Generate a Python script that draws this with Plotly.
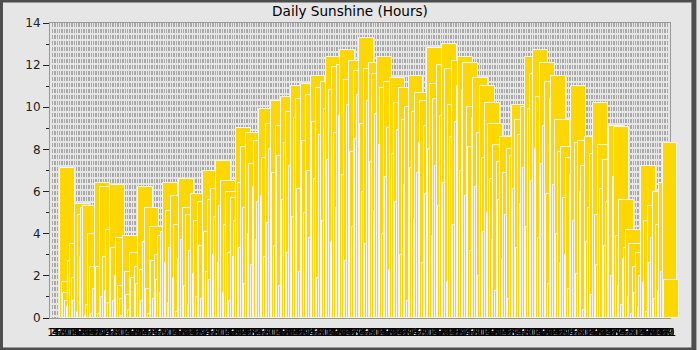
import pandas as pd
import plotly.graph_objects as go

# ---- data: daily sunshine hours ----
jan = [7.1, 1.7, 1.2, 0.8, 0.5, 2.7, 3.5, 1.9, 0.8, 5.4,
       0.3, 4.9, 2.9, 5.2, 5.3, 0.1, 0.6, 4.0, 2.4, 0.2,
       1.4, 6.4, 2.4, 0.2, 6.2, 1.0, 2.9, 1.3, 4.2, 0.7, 6.3]
feb = [3.3, 0.8, 2.0, 3.8, 1.5, 0.9, 0.1, 3.9, 2.2, 1.1,
       0.4, 3.1, 1.9, 0.0, 2.4, 1.6, 6.2, 2.3, 0.8, 3.6,
       5.2, 1.4, 0.2, 4.3, 2.7, 0.9, 3.0, 1.8]
mar = [3.9, 1.2, 4.1, 6.4, 2.6, 5.1, 0.7, 3.3, 5.8, 1.9,
       4.4, 0.3, 2.8, 6.6, 3.7, 5.2, 1.5, 4.9, 0.6, 3.2,
       5.9, 2.1, 4.6, 1.0, 5.5, 3.4, 0.9, 7.0, 4.1, 2.2, 5.6]
apr = [1.8, 6.1, 3.0, 4.8, 7.45, 2.6, 5.3, 6.5, 1.2, 4.4,
       6.0, 3.1, 0.8, 5.7, 2.9, 4.6, 9.0, 6.4, 3.3, 8.1,
       5.2, 1.6, 8.8, 4.0, 7.3, 2.5, 6.2, 8.4, 3.7, 5.5]
may = [9.9, 5.8, 7.6, 2.9, 9.2, 4.5, 8.0, 10.3, 6.9, 3.4,
       9.1, 7.7, 1.5, 10.5, 5.6, 8.3, 9.8, 3.1, 7.2, 11.0,
       4.8, 9.5, 10.4, 6.1, 2.2, 11.1, 8.4, 5.0, 10.6, 7.0, 3.8]
jun = [11.5, 9.3, 6.6, 10.9, 1.9, 8.7, 11.2, 4.6, 9.9, 12.4,
       7.5, 10.8, 3.6, 11.9, 8.8, 5.2, 12.0, 9.6, 12.7, 6.8,
       11.3, 2.7, 10.1, 12.2, 7.9, 4.3, 11.7, 8.5, 10.6, 13.3]
jul = [9.2, 6.0, 11.8, 3.5, 10.3, 12.1, 7.4, 11.6, 5.1, 9.7,
       12.4, 8.2, 10.9, 4.0, 11.2, 6.7, 9.0, 2.3, 11.4, 7.8,
       10.2, 5.5, 8.9, 10.9, 3.0, 9.4, 6.3, 10.0, 0.8, 11.5, 7.1]
aug = [9.8, 4.7, 10.7, 6.9, 8.3, 10.3, 2.6, 9.1, 5.9, 12.8,
       8.0, 11.1, 3.9, 10.4, 7.2, 12.0, 5.3, 9.6, 13.0, 6.4,
       11.8, 1.7, 10.1, 8.6, 12.2, 4.4, 9.3, 11.0, 12.4, 7.0, 10.8]
sep = [12.1, 5.8, 10.0, 8.1, 3.2, 9.5, 11.4, 6.2, 8.8, 2.0,
       11.0, 7.6, 4.1, 10.2, 5.0, 9.2, 6.6, 3.7, 8.2, 1.3,
       7.4, 5.6, 8.6, 2.8, 6.9, 4.9, 8.0, 0.9, 7.7, 10.1]
oct_ = [6.1, 9.4, 3.3, 8.7, 5.4, 10.0, 7.1, 12.4, 4.3, 9.9,
        11.6, 6.5, 12.7, 8.0, 10.5, 3.8, 12.1, 7.3, 9.1, 11.2,
        5.9, 1.6, 10.4, 11.5, 6.3, 9.4, 4.0, 7.9, 2.6, 8.1, 5.7]
nov = [3.0, 7.6, 1.4, 6.8, 11.0, 4.6, 8.3, 2.1, 8.4, 6.0,
       7.2, 0.4, 8.6, 3.6, 5.2, 7.8, 1.1, 10.2, 4.9, 2.5,
       8.2, 6.1, 0.0, 7.5, 3.4, 5.5, 8.9, 9.1, 2.0, 6.7]
dec = [9.05, 3.9, 1.5, 5.6, 0.6, 2.8, 3.3, 4.2, 1.0, 3.5,
       0.2, 2.4, 1.2, 3.1, 0.5, 2.0, 7.2, 1.7, 4.6, 0.3,
       5.3, 2.6, 3.8, 6.0, 0.9, 4.4, 1.3, 6.4, 2.2, 8.3, 1.8]

sunshine = jan + feb + mar + apr + may + jun + jul + aug + sep + oct_ + nov + dec
assert len(sunshine) == 365, len(sunshine)

dates = pd.date_range("2023-01-01", periods=len(sunshine), freq="D")
day_index = list(range(1, len(sunshine) + 1))
day_labels = [str(d.day) for d in dates]

title_text = "Daily Sunshine (Hours)"
y_ticks = [0, 2, 4, 6, 8, 10, 12, 14]

# ---- layout geometry ----
W, H = 700, 350
ML, MR, MT, MB = 50, 10, 23, 32
PW, PH = W - ML - MR, H - MT - MB
grid_right = (676 - ML) / PW          # framed, gridded part of the plot
px_per_day = 1.676                    # bar spacing
bar_start_px = 10                     # first bar's left edge from frame
x2_lo = 1 - bar_start_px / px_per_day
x2_hi = x2_lo + PW / px_per_day
bar_w = 15 / px_per_day

FONT = "DejaVu Sans"

fig = go.Figure()
# invisible carrier trace so the framed day-grid subplot (x, y) is drawn
fig.add_trace(go.Scatter(
    x=day_index, y=sunshine, xaxis="x", yaxis="y",
    mode="markers", marker=dict(opacity=0, size=1),
    hoverinfo="skip", showlegend=False,
))
fig.add_trace(go.Bar(
    x=day_index, y=sunshine, xaxis="x2", yaxis="y",
    offset=0, width=bar_w,
    marker=dict(color="#FFD700", line=dict(color="#f4f4f4", width=1)),
    customdata=[d.strftime("%Y-%m-%d") for d in dates],
    hovertemplate="%{customdata}: %{y} h<extra></extra>",
    showlegend=False,
))

fig.update_layout(
    width=W, height=H,
    margin=dict(l=ML, r=MR, t=MT, b=MB, pad=0),
    paper_bgcolor="#e6e6e6",
    plot_bgcolor="rgba(0,0,0,0)",
    font=dict(family=FONT, color="#111111"),
    title=dict(text=title_text, x=0.5, xanchor="center", xref="container",
               y=1 - 11 / H, yanchor="middle", yref="container",
               font=dict(family=FONT, size=13.6, color="#000000")),
    bargap=0,
    xaxis=dict(
        domain=[0, grid_right], anchor="y",
        range=[0.5, len(sunshine) + 0.5],
        tickmode="array", tickvals=day_index, ticktext=day_labels,
        tickangle=0, tickfont=dict(family=FONT, size=11, color="#000000"),
        ticklabelstandoff=4,
        ticks="", showgrid=True, gridcolor="#a9a9a9", gridwidth=1.3,
        griddash="4px,2px", zeroline=False,
        showline=True, linecolor="#999999", linewidth=1, mirror=True,
        fixedrange=True,
    ),
    xaxis2=dict(
        domain=[0, 1], anchor="y", range=[x2_lo, x2_hi],
        visible=False, showgrid=False, zeroline=False, fixedrange=True,
    ),
    yaxis=dict(
        domain=[0, 1], anchor="x", range=[0, 14],
        tickmode="array", tickvals=y_ticks,
        ticks="outside", ticklen=6, tickwidth=1, tickcolor="#222222",
        minor=dict(dtick=1, ticks="outside", ticklen=3, tickwidth=1,
                   tickcolor="#222222", showgrid=False),
        tickfont=dict(family=FONT, size=12, color="#222222"),
        showgrid=False, zeroline=False,
        showline=True, linecolor="#999999", linewidth=1, mirror=True,
        fixedrange=True,
    ),
    shapes=[dict(
        type="rect", xref="paper", yref="paper",
        x0=-ML / PW, x1=1 + MR / PW, y0=-MB / PH, y1=1 + MT / PH,
        line=dict(color="#4d4d4d", width=5), fillcolor="rgba(0,0,0,0)",
        layer="above",
    )],
)

fig.write_html("out.html")
